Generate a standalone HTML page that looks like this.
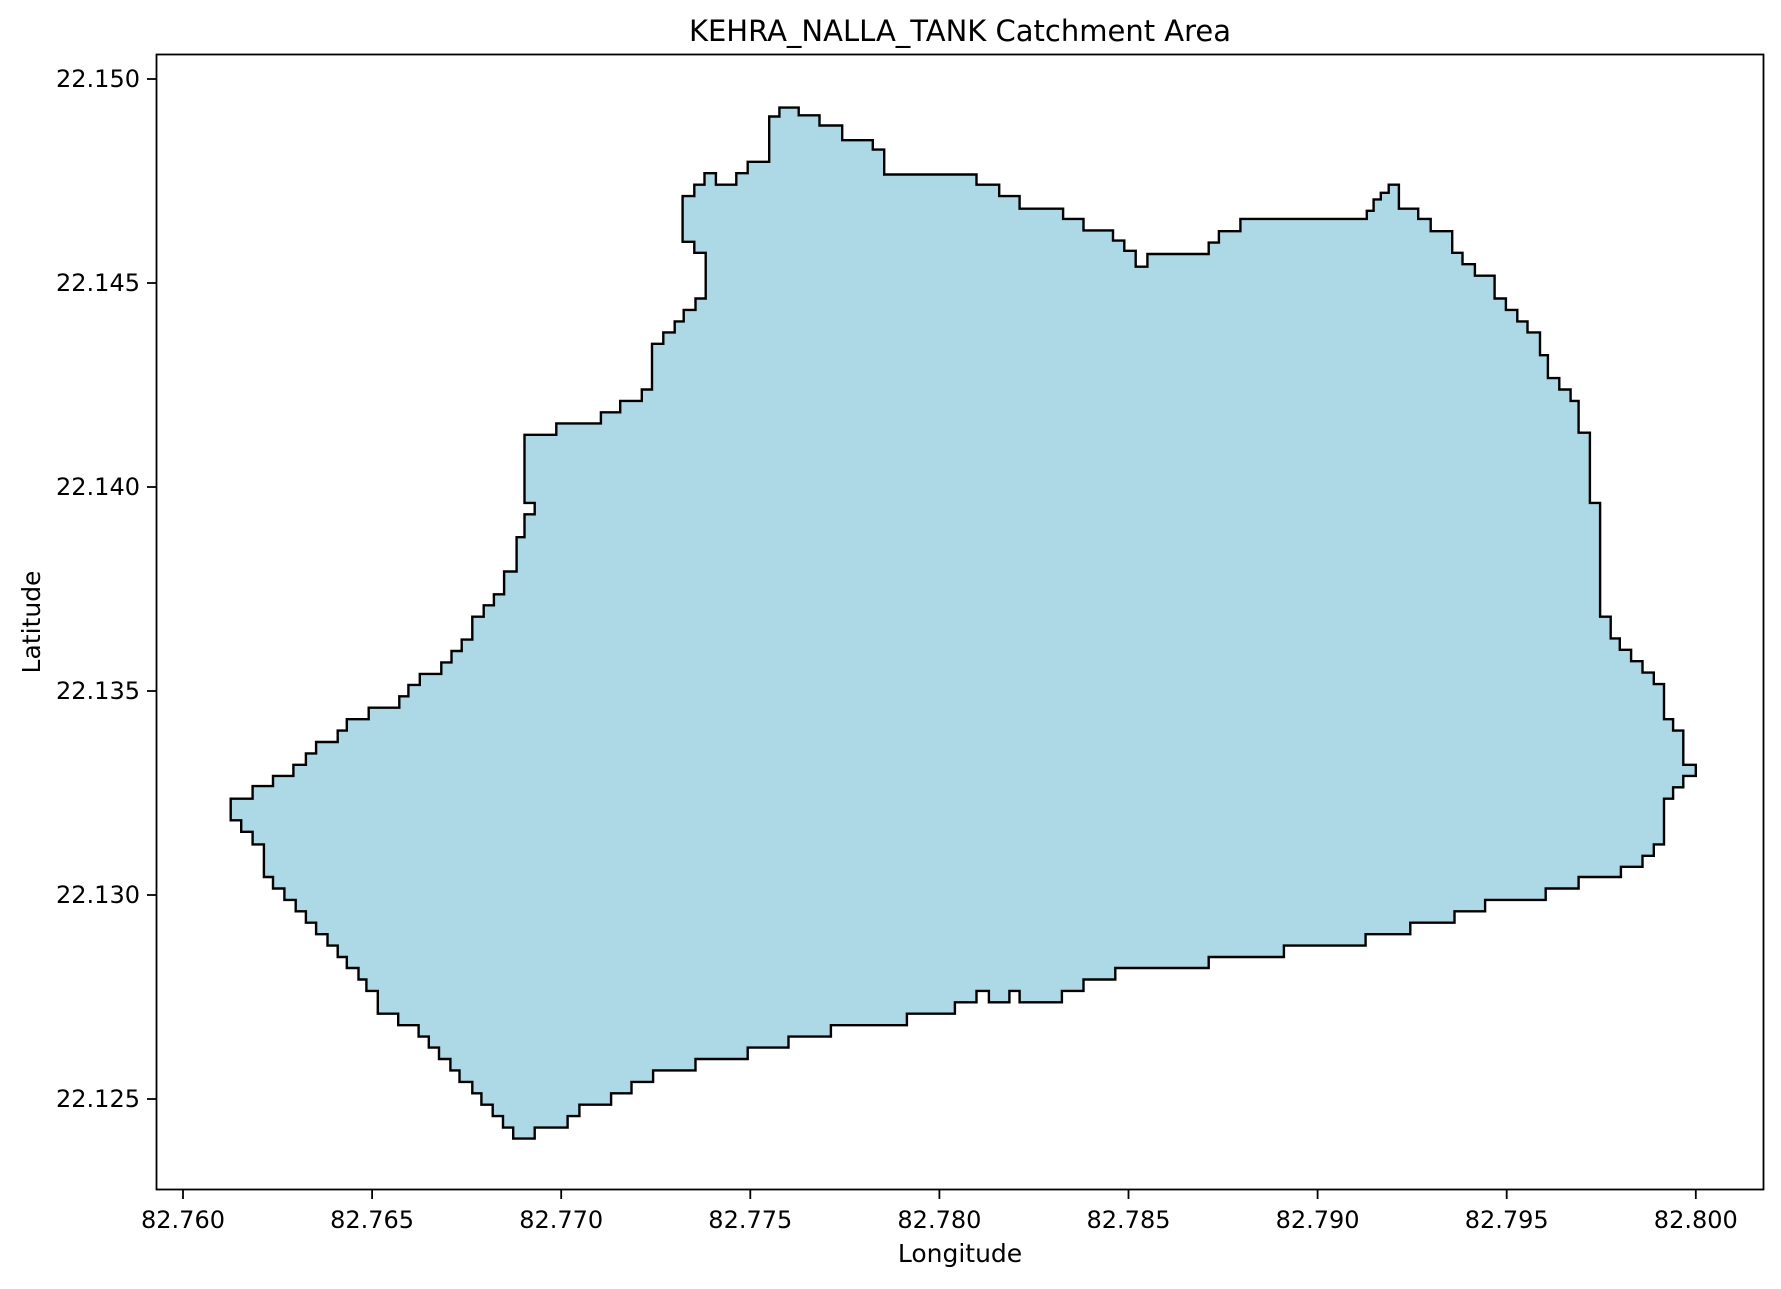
<!DOCTYPE html>
<html><head><meta charset="utf-8"><style>
body{margin:0;background:#fff;}
svg text{font-family:"DejaVu Sans","Liberation Sans",sans-serif;fill:#000;}
</style></head><body>
<svg id="chart" width="1781" height="1284" viewBox="0 0 1781 1284" xmlns="http://www.w3.org/2000/svg">
<rect width="1781" height="1284" fill="#fff"/>
<text x="960" y="41" font-size="29" text-anchor="middle">KEHRA_NALLA_TANK Catchment Area</text>
<g id="plot"></g>
<rect x="156.5" y="54.5" width="1607" height="1135" fill="none" stroke="#000" stroke-width="1.8"/>
<g id="xticks"></g>
<g id="yticks"></g>
<text x="960" y="1262" font-size="25" text-anchor="middle">Longitude</text>
<text x="40" y="622" font-size="25" text-anchor="middle" transform="rotate(-90 40 622)">Latitude</text>
</svg>
<script>
const xTickValues = [82.760, 82.765, 82.770, 82.775, 82.780, 82.785, 82.790, 82.795, 82.800];
const xTickLabels = ["82.760","82.765","82.770","82.775","82.780","82.785","82.790","82.795","82.800"];
const yTickValues = [22.125, 22.130, 22.135, 22.140, 22.145, 22.150];
const yTickLabels = ["22.125","22.130","22.135","22.140","22.145","22.150"];
// staircase boundary: each point reached by horizontal move then vertical move
const boundary = [
[82.7755,22.14908],[82.77577,22.1493],[82.77628,22.14911],[82.77683,22.14886],[82.77743,22.1485],[82.77824,22.14827],[82.77854,22.14766],[82.78098,22.14741],[82.78158,22.14713],[82.78212,22.14682],[82.78327,22.14657],[82.78381,22.14629],[82.78459,22.14604],[82.78489,22.14579],[82.78519,22.1454],[82.7855,22.14571],[82.78712,22.14599],[82.78739,22.14627],[82.78796,22.14657],[82.7913,22.14677],[82.79148,22.14705],[82.79167,22.14721],[82.79188,22.14741],[82.79215,22.14682],[82.79266,22.14657],[82.79299,22.14627],[82.79356,22.14574],[82.79383,22.14546],[82.79416,22.14518],[82.79468,22.14462],[82.79498,22.14434],[82.79528,22.14406],[82.79555,22.14379],[82.79588,22.14323],[82.79609,22.14267],[82.79639,22.14239],[82.79669,22.14211],[82.7969,22.14133],[82.7972,22.13961],[82.79747,22.13682],[82.79775,22.13629],[82.79799,22.13601],[82.79829,22.13573],[82.79859,22.13545],[82.79889,22.13517],[82.79916,22.13431],[82.7994,22.13403],[82.79967,22.13319],[82.8,22.13292],[82.79967,22.13264],[82.7994,22.13236],[82.79916,22.13124],[82.79889,22.13096],[82.79859,22.13069],[82.79802,22.13044],[82.7969,22.13016],[82.79603,22.12988],[82.79443,22.1296],[82.79362,22.12932],[82.79245,22.12904],[82.79127,22.12876],[82.78911,22.12848],[82.78712,22.12821],[82.78465,22.12793],[82.78381,22.12765],[82.78324,22.12737],[82.78212,22.12765],[82.78185,22.12737],[82.78131,22.12765],[82.78098,22.12737],[82.78041,22.12709],[82.77914,22.12681],[82.77713,22.12653],[82.77601,22.12626],[82.77493,22.12598],[82.77355,22.1257],[82.77243,22.12542],[82.77186,22.12514],[82.77132,22.12486],[82.77048,22.12458],[82.77017,22.1243],[82.7693,22.12403],[82.76873,22.1243],[82.76846,22.12458],[82.76819,22.12486],[82.76789,22.12514],[82.76765,22.12542],[82.76731,22.1257],[82.76707,22.12598],[82.76677,22.12626],[82.7665,22.12653],[82.76623,22.12681],[82.76569,22.12709],[82.76515,22.12765],[82.76485,22.12793],[82.76464,22.12821],[82.76433,22.12848],[82.76409,22.12876],[82.76382,22.12904],[82.76352,22.12932],[82.76325,22.1296],[82.76298,22.12988],[82.76268,22.13016],[82.76238,22.13044],[82.76214,22.13124],[82.76184,22.13155],[82.76154,22.13183],[82.76126,22.13236],[82.76184,22.13267],[82.76238,22.13292],[82.76292,22.13319],[82.76325,22.13347],[82.76352,22.13375],[82.76409,22.13403],[82.76433,22.13431],[82.76491,22.13459],[82.76572,22.13487],[82.76596,22.13515],[82.76626,22.13542],[82.76683,22.1357],[82.7671,22.13598],[82.76737,22.13626],[82.76765,22.13682],[82.76795,22.1371],[82.76822,22.13737],[82.76849,22.13793],[82.76882,22.13877],[82.76903,22.13933],[82.7693,22.13961],[82.76903,22.14128],[82.76987,22.14156],[82.77105,22.14183],[82.77156,22.14211],[82.77213,22.14239],[82.7724,22.14351],[82.7727,22.14379],[82.773,22.14406],[82.77324,22.14434],[82.77355,22.14462],[82.77382,22.14574],[82.77352,22.14601],[82.77321,22.14713],[82.77352,22.14741],[82.77379,22.14769],[82.77409,22.14741],[82.77463,22.14769],[82.77493,22.14797]
];
const X0 = 183, XPER = 189.1, Y0 = 79, YPER = 204;
function xScale(v){ return X0 + (v - 82.760) / 0.005 * XPER; }
function yScale(v){ return Y0 + (22.150 - v) / 0.005 * YPER; }
const NS = "http://www.w3.org/2000/svg";
const plot = document.getElementById('plot');
let last = boundary[boundary.length - 1];
let d = "M" + xScale(last[0]).toFixed(1) + "," + yScale(last[1]).toFixed(1);
let prevY = yScale(last[1]);
for (const p of boundary) {
  const px = xScale(p[0]), py = yScale(p[1]);
  d += " L" + px.toFixed(1) + "," + prevY.toFixed(1) + " L" + px.toFixed(1) + "," + py.toFixed(1);
  prevY = py;
}
d += " Z";
const poly = document.createElementNS(NS, 'path');
poly.setAttribute('d', d);
poly.setAttribute('fill', '#add8e6');
poly.setAttribute('stroke', '#000');
poly.setAttribute('stroke-width', '2.4');


plot.appendChild(poly);
const xg = document.getElementById('xticks');
xTickValues.forEach((v, i) => {
  const x = xScale(v);
  const t = document.createElementNS(NS, 'line');
  t.setAttribute('x1', x); t.setAttribute('x2', x); t.setAttribute('y1', 1190); t.setAttribute('y2', 1199);
  t.setAttribute('stroke', '#000'); t.setAttribute('stroke-width', '1.8');
  
  
  xg.appendChild(t);
  const l = document.createElementNS(NS, 'text');
  l.setAttribute('x', x); l.setAttribute('y', 1228); l.setAttribute('font-size', '24'); l.setAttribute('text-anchor', 'middle');
  l.textContent = xTickLabels[i];
  
  
  xg.appendChild(l);
});
const yg = document.getElementById('yticks');
yTickValues.forEach((v, i) => {
  const y = yScale(v);
  const t = document.createElementNS(NS, 'line');
  t.setAttribute('x1', 147); t.setAttribute('x2', 156); t.setAttribute('y1', y); t.setAttribute('y2', y);
  t.setAttribute('stroke', '#000'); t.setAttribute('stroke-width', '1.8');
  
  
  yg.appendChild(t);
  const l = document.createElementNS(NS, 'text');
  l.setAttribute('x', 140); l.setAttribute('y', y + 8); l.setAttribute('font-size', '24'); l.setAttribute('text-anchor', 'end');
  l.textContent = yTickLabels[i];
  
  
  yg.appendChild(l);
});
</script>
</body></html>
